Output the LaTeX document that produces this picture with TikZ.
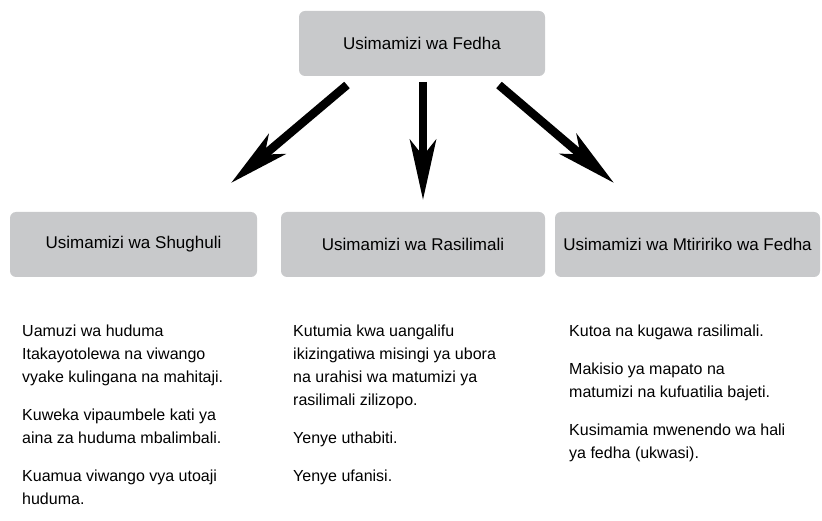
\documentclass[tikz,border=0pt]{standalone}
\usepackage{fontspec}
\setmainfont{Liberation Sans}
\usetikzlibrary{arrows.meta}
\definecolor{boxgray}{RGB}{200,201,203}
\begin{document}
\begin{tikzpicture}[x=1pt,y=-1pt]

\tikzset{box/.style={fill=boxgray, rounded corners=6pt, minimum height=65pt, inner sep=0pt, font=\fontsize{17}{23}\selectfont}};
\tikzset{bodytext/.style={anchor=north west, inner sep=0pt, align=left, font=\fontsize{16}{23}\selectfont}};
\tikzset{bigarrow/.style={line width=8.5pt, -{Stealth[length=60pt, width=26pt, inset=16pt]}}};

\useasboundingbox (0,0) rectangle (822,521);

\node[box, minimum width=246pt] (fedha) at (422,43.5) {Usimamizi wa Fedha};
\node[box, minimum width=247pt] (shughuli) at (133.5,244.5) {Usimamizi wa Shughuli};
\node[box, minimum width=264pt] (rasilimali) at (413,244.5) {Usimamizi wa Rasilimali};
\node[box, minimum width=265pt] (mtiririko) at (687.5,244.5) {Usimamizi wa Mtiririko wa Fedha};

\coordinate (s1) at (347,85);
\coordinate (e1) at (231,183);
\coordinate (s2) at (423,82);
\coordinate (e2) at (423,200);
\coordinate (s3) at (499,85);
\coordinate (e3) at (614,183);
\draw[bigarrow] (s1)--(e1);
\draw[bigarrow] (s2)--(e2);
\draw[bigarrow] (s3)--(e3);

\node[bodytext] (shughulitxt) at (22,324.5) {Uamuzi wa huduma\\Itakayotolewa na viwango\\vyake kulingana na mahitaji.\\[15pt]Kuweka vipaumbele kati ya\\aina za huduma mbalimbali.\\[15pt]Kuamua viwango vya utoaji\\huduma.};
\node[bodytext] (rasilimalitxt) at (293,324.5) {Kutumia kwa uangalifu\\ikizingatiwa misingi ya ubora\\na urahisi wa matumizi ya\\rasilimali zilizopo.\\[15pt]Yenye uthabiti.\\[15pt]Yenye ufanisi.};
\node[bodytext] (mtiririkotxt) at (569,324.5) {Kutoa na kugawa rasilimali.\\[15pt]Makisio ya mapato na\\matumizi na kufuatilia bajeti.\\[15pt]Kusimamia mwenendo wa hali\\ya fedha (ukwasi).};

\end{tikzpicture}
\end{document}
